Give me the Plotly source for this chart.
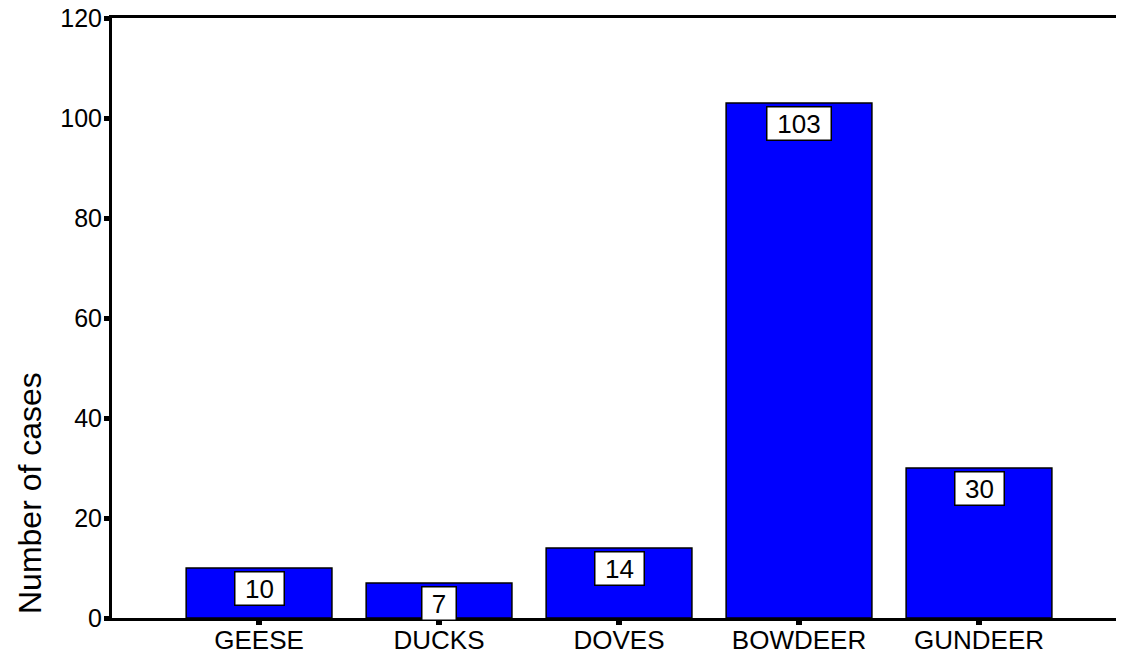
import plotly.graph_objects as go

categories = ["GEESE", "DUCKS", "DOVES", "BOWDEER", "GUNDEER"]
counts = [10, 7, 14, 103, 30]
y_ticks = [0, 20, 40, 60, 80, 100, 120]
y_title = "Number of cases"

FONT = "Liberation Sans, Arial, sans-serif"

fig = go.Figure()
fig.add_trace(go.Bar(
    x=categories, y=counts, width=0.81,
    marker=dict(color="#0000FF", line=dict(color="black", width=1.5)),
    hoverinfo="skip",
))

for c, v in zip(categories, counts):
    n = len(str(v))
    fig.add_annotation(
        x=c, y=v, xref="x", yref="y", text=str(v), showarrow=False,
        yanchor="top", yshift=-3,
        width=15 * n + 16, height=30,
        font=dict(family=FONT, size=26, color="black"),
        bgcolor="white", bordercolor="black", borderwidth=1.5, borderpad=1,
    )

# y-axis title (placed low, as in the reference)
fig.add_annotation(
    x=0, y=0.2083, xref="paper", yref="paper", text=y_title, showarrow=False,
    textangle=-90, xanchor="center", yanchor="middle", xshift=-82,
    font=dict(family=FONT, size=32, color="black"),
)

fig.update_layout(
    width=1124, height=647,
    margin=dict(l=104, r=0, t=10, b=37),
    paper_bgcolor="white", plot_bgcolor="white",
    showlegend=False,
    font=dict(family=FONT, color="black"),
    xaxis=dict(
        type="category", range=[-0.817, 4.85], automargin=False,
        showline=True, linecolor="black", linewidth=3, mirror=True,
        ticks="outside", ticklen=4, tickwidth=6, tickcolor="black",
        ticklabelstandoff=-7, ticklabeloverflow="allow",
        tickfont=dict(size=26, family=FONT, color="black"),
        showgrid=False, zeroline=False,
    ),
    yaxis=dict(
        range=[0, 120], tickvals=y_ticks, automargin=False,
        showline=True, linecolor="black", linewidth=3, mirror=False,
        ticks="outside", ticklen=5, tickwidth=5, tickcolor="black",
        ticklabelstandoff=-3, ticklabeloverflow="allow",
        tickfont=dict(size=25, family=FONT, color="black"),
        showgrid=False, zeroline=False,
    ),
)

fig.write_html("out.html")
